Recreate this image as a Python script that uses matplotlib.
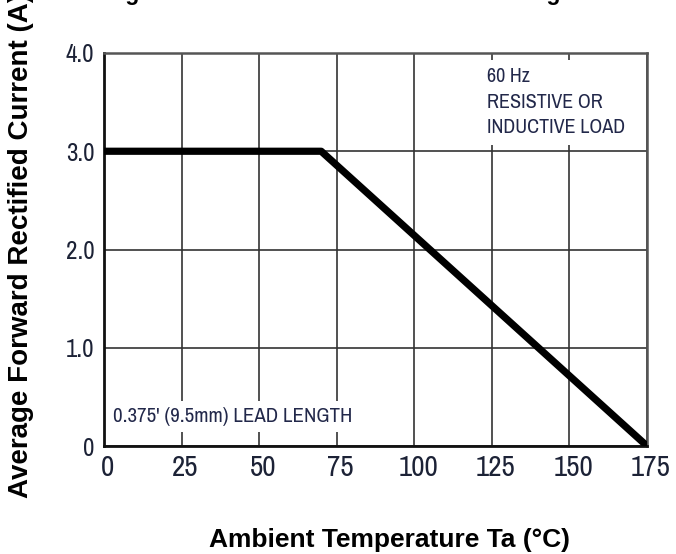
import matplotlib.pyplot as plt
from matplotlib.transforms import ScaledTranslation

# derating curve data
temp_c = [0, 70, 175]
current_a = [3.0, 3.0, 0.0]

x_ticks = [0, 25, 50, 75, 100, 125, 150, 175]
y_ticks = [0, 1.0, 2.0, 3.0, 4.0]
y_tick_labels = ["0", "1.0", "2.0", "3.0", "4.0"]

narrow = ["Archivo Narrow", "DejaVu Sans"]
bold = ["Liberation Sans", "DejaVu Sans"]
tick_color = "#1c2236"
note_color = "#22284a"

fig = plt.figure(figsize=(6.76, 5.54), dpi=100)
ax = fig.add_axes([104 / 676, 1 - 446 / 554, 543 / 676, 393 / 554])

ax.plot(temp_c, current_a, color="black", lw=5.2, solid_capstyle="butt", zorder=4)

ax.set_xlim(0, 175)
ax.set_ylim(0, 4.0)
ax.set_xticks(x_ticks)
ax.set_yticks(y_ticks)
ax.set_xticklabels([str(t) for t in x_ticks], family=narrow, fontsize=21, color=tick_color)
ax.set_yticklabels(y_tick_labels, family=narrow, fontsize=18, color=tick_color)
ax.tick_params(axis="x", length=0, pad=6)
ax.tick_params(axis="y", length=0, pad=7)

# x labels in the source sit a little right of their gridlines
shift = ScaledTranslation(4 / 100, 0, fig.dpi_scale_trans)
for lab in ax.get_xticklabels():
    lab.set_transform(lab.get_transform() + shift)

ax.grid(True, color="#333333", lw=1.2, zorder=1)
for side in ["left", "bottom"]:
    ax.spines[side].set_linewidth(2)
    ax.spines[side].set_color("#111111")
for side in ["top", "right"]:
    ax.spines[side].set_linewidth(1.8)
    ax.spines[side].set_color("#555555")

ax.text(0.705, 0.785, "60 Hz\nRESISTIVE OR\nINDUCTIVE LOAD", transform=ax.transAxes,
        family=narrow, fontsize=14.5, color=note_color,
        linespacing=1.45, va="bottom", ha="left", zorder=3,
        bbox=dict(boxstyle="square,pad=0.35", fc="white", ec="none"))

ax.text(0.016, 0.075, "0.375' (9.5mm) LEAD LENGTH", transform=ax.transAxes,
        family=narrow, fontsize=15, color=note_color,
        va="center", ha="left", zorder=3,
        bbox=dict(boxstyle="square,pad=0.3", fc="white", ec="none"))

fig.text(390 / 676, 1 - 547 / 554, "Ambient Temperature Ta (°C)", family=bold,
         fontweight="bold", fontsize=19, ha="center", va="baseline")
fig.text(21 / 676, 1 - 246 / 554, "Average Forward Rectified Current (A)", family=bold,
         fontweight="bold", fontsize=20, rotation=90, ha="center", va="center")

# title sits mostly above the top edge, as in the source image
fig.text(368 / 676, 1.0, "Fig. 1 Maximum Forward Current Derating Curve", family=bold,
         fontweight="bold", fontsize=16.5, ha="center", va="baseline")

fig.savefig("out.png", dpi=100)
